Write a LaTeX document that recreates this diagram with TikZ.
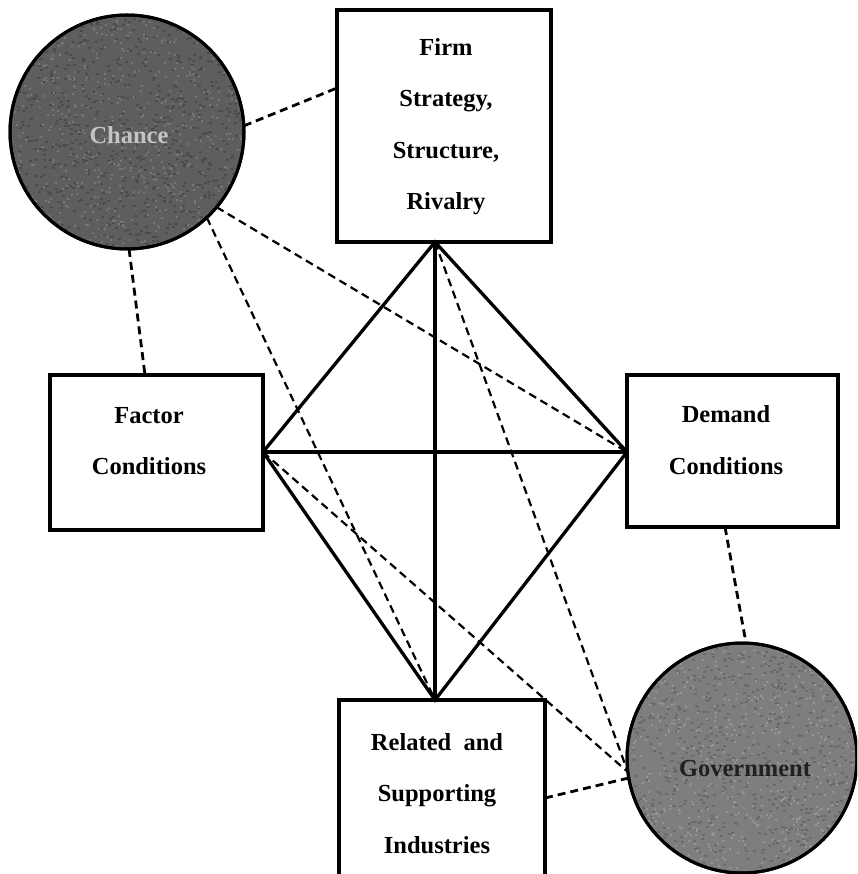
\documentclass[tikz,border=0pt]{standalone}
\usepackage{fontspec}
\setmainfont{Liberation Serif}
\definecolor{chancefill}{HTML}{5E5E5E}
\definecolor{chancedark}{HTML}{4C4C4C}
\definecolor{chancelight}{HTML}{767676}
\definecolor{govfill}{HTML}{7E7E7E}
\definecolor{govdark}{HTML}{6A6A6A}
\definecolor{govlight}{HTML}{959595}
\definecolor{chancetxt}{HTML}{C4C4C4}
\definecolor{govtxt}{HTML}{202020}
\begin{document}
\begin{tikzpicture}[x=1pt,y=-1pt,
  box/.style={draw, line width=3.5pt, fill=white, inner sep=0pt, outer sep=0pt},
  lbl/.style={align=center, font=\fontsize{24.5}{51.5}\selectfont\bfseries, inner sep=0pt},
  ball/.style={circle, draw, line width=3pt, inner sep=0pt, outer sep=0pt, minimum size=#1},
  balltxt/.style={font=\fontsize{24.5}{28}\selectfont\bfseries, inner sep=0pt},
  solidlink/.style={line width=3.3pt, line cap=round},
  dlink/.style={line width=2.2pt, dash pattern=on 8pt off 5pt},
  dlinkb/.style={line width=2.8pt, dash pattern=on 8pt off 5pt},
  speck/.style={fill=#1},
]
\clip (0,0) rectangle (857,874);

% boxes
\node[box, minimum width=214, minimum height=232] (firm) at (444,126) {};
\node[lbl] (firmtxt) at (446,126.5) {Firm\\Strategy,\\Structure,\\Rivalry};
\node[box, minimum width=213, minimum height=155] (factor) at (156.5,452.5) {};
\node[lbl] (factortxt) at (149,441) {Factor\\Conditions};
\node[box, minimum width=211, minimum height=152] (demand) at (732.5,451) {};
\node[lbl] (demandtxt) at (726,440) {Demand\\Conditions};
\node[box, minimum width=206, minimum height=200] (related) at (442,800) {};
\node[lbl] (relatedtxt) at (437,793.5) {Related\enspace and\\Supporting\\Industries};

% circles
\node[ball=234, fill=chancefill] (chance) at (127,132) {};
\node[ball=230, fill=govfill] (gov) at (742,758) {};

% texture
\pgfmathsetseed{7}
\begin{scope}
  \clip (127,132) circle (115);
  \foreach \i in {1,...,800} {
    \pgfmathsetmacro{\px}{127+115*rand}
    \pgfmathsetmacro{\py}{132+115*rand}
    \fill[speck=chancedark] (\px,\py) rectangle +(3,2);
  }
  \foreach \i in {1,...,600} {
    \pgfmathsetmacro{\px}{127+115*rand}
    \pgfmathsetmacro{\py}{132+115*rand}
    \fill[speck=chancelight] (\px,\py) rectangle +(2,2);
  }
\end{scope}
\begin{scope}
  \clip (742,758) circle (113);
  \foreach \i in {1,...,800} {
    \pgfmathsetmacro{\px}{742+113*rand}
    \pgfmathsetmacro{\py}{758+113*rand}
    \fill[speck=govdark] (\px,\py) rectangle +(3,2);
  }
  \foreach \i in {1,...,600} {
    \pgfmathsetmacro{\px}{742+113*rand}
    \pgfmathsetmacro{\py}{758+113*rand}
    \fill[speck=govlight] (\px,\py) rectangle +(2,2);
  }
\end{scope}
\draw[line width=3pt] (chance.center) circle (117);
\draw[line width=3pt] (gov.center) circle (115);
\node[balltxt, text=chancetxt] (chancetxt) at (129,135) {Chance};
\node[balltxt, text=govtxt] (govtxt) at (745,768) {Government};

% diamond apexes
\coordinate (fS) at (435,242);
\coordinate (fcE) at (263,452);
\coordinate (dW) at (627,452);
\coordinate (rN) at (435,700);
\coordinate (fW) at (337,88);
\coordinate (fcN) at (145,375);
\coordinate (dS) at (725,527);
\coordinate (rE) at (545,798);

% solid diamond
\draw[solidlink] (fS) -- (fcE) -- (rN) -- (dW) -- cycle;
\draw[solidlink] (fS) -- (rN);
\draw[solidlink] (fcE) -- (dW);

% dashed links
\draw[dlinkb] (chance.3) -- (fW);
\draw[dlinkb] (chance.-89) -- (fcN);
\draw[dlink] (chance.-40) -- (dW);
\draw[dlink] (chance.-47) -- (rN);
\draw[dlink] (fS) -- (gov.187);
\draw[dlink] (fcE) -- (gov.187);
\draw[dlinkb] (rE) -- (gov.190);
\draw[dlinkb] (dS) -- (gov.88);
\end{tikzpicture}
\end{document}
